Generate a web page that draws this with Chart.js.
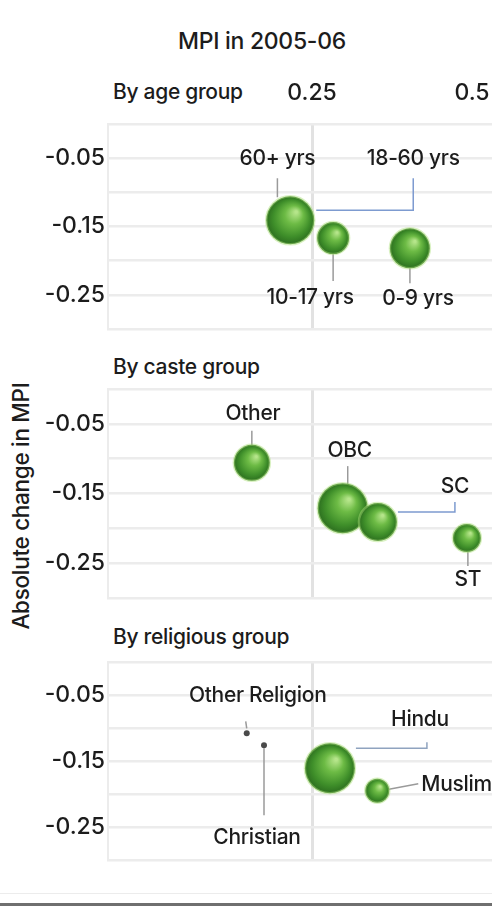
<!DOCTYPE html>
<html>
<head>
<meta charset="utf-8">
<script src="https://cdn.jsdelivr.net/npm/chart.js@4/dist/chart.umd.min.js"></script>
<style>
  html, body { margin: 0; padding: 0; background: #fff; }
  body { width: 492px; height: 910px; overflow: hidden; position: relative; font-family: Inter, "Noto Sans", sans-serif; color: #1c1c1c; }
  canvas { position: absolute; left: 0; }
  .txt { position: absolute; white-space: nowrap; line-height: 1; font-weight: 500; letter-spacing: -0.3px; }
  #title { top: 30px; left: 0; width: 524px; text-align: center; font-size: 23px; }
  .sub { left: 113px; font-size: 21px; }
  #ytitle { font-size: 22.5px; left: 21px; top: 506px; transform: translate(-50%, -50%) rotate(-90deg); }
  #rule1 { position: absolute; left: 0; width: 492px; top: 893px; height: 1px; background: #ececec; }
  #rule2 { position: absolute; left: 0; width: 492px; top: 903px; height: 3px; background: #6f6f6f; }
</style>
</head>
<body>
<div id="title" class="txt">MPI in 2005-06</div>
<div class="txt sub" style="top:81px">By age group</div>
<div class="txt sub" style="top:356px">By caste group</div>
<div class="txt sub" style="top:626px">By religious group</div>
<div id="ytitle" class="txt">Absolute change in MPI</div>
<div id="rule1"></div>
<div id="rule2"></div>

<canvas id="ageChart" width="600" height="280" style="top:60px"></canvas>
<canvas id="casteChart" width="600" height="235" style="top:370px"></canvas>
<canvas id="religionChart" width="600" height="230" style="top:640px"></canvas>

<script>
// x: MPI in 2005-06, y: absolute change in MPI, size: bubble radius (population)
const ageGroups = ['60+ yrs', '18-60 yrs', '10-17 yrs', '0-9 yrs'];
const ageMpi = [0.21, 0.216, 0.283, 0.403];
const ageChange = [-0.135, -0.141, -0.167, -0.182];
const ageSize = [12, 24, 16, 20];

const casteGroups = ['Other', 'OBC', 'SC', 'ST'];
const casteMpi = [0.156, 0.298, 0.353, 0.492];
const casteChange = [-0.106, -0.171, -0.191, -0.214];
const casteSize = [18, 25, 19, 14];

const religionGroups = ['Other Religion', 'Christian', 'Hindu', 'Muslim'];
const religionMpi = [0.148, 0.175, 0.278, 0.352];
const religionChange = [-0.108, -0.126, -0.161, -0.195];
const religionSize = [3, 3, 25, 12];

const xTickValues = [0.25, 0.5];
const yTickLabels = [-0.05, -0.15, -0.25];

// where each callout label sits relative to its bubble (pixels)
const ageCallouts = [
    { dx: -9, dy: -58, line: [[-9, -38], [-9, -19]] },
    { dx: 123, dy: -62, line: [[123, -42], [123, -10], [26, -10]], color: '#7d9bd0' },
    { dx: -23, dy: 60, line: [[0, 16], [0, 43]] },
    { dx: 8, dy: 50, line: [[0, 20], [0, 35]] }
];
const casteCallouts = [
    { dx: 1, dy: -49, line: [[0, -32], [0, -16]] },
    { dx: 7, dy: -57, line: [[5, -42], [5, -23]] },
    { dx: 77, dy: -35, line: [[77, -20], [77, -10], [20, -10]], color: '#7d9bd0' },
    { dx: 1, dy: 42, line: [[1, 14], [1, 28]] }
];
const religionCallouts = [
    { dx: 11, dy: -38, line: [[-1, -12], [0, -5]] },
    { dx: -7, dy: 93, line: [[0, 3], [0, 70]] },
    { dx: 90, dy: -49, line: [[26, -20], [97, -20], [97, -26]], color: '#8fa3bf' },
    { dx: 44, dy: -6, align: 'left', line: [[9, -1], [41, -7]] }
];

function toPoints(xs, ys, rs) {
    return xs.map((x, i) => ({ x: x, y: ys[i], r: rs[i] }));
}

// shaded green sphere look
function bubbleFill(ctx) {
    const raw = ctx.raw;
    const chart = ctx.chart;
    if (!raw || !chart.scales.x) return '#4b9d31';
    if (raw.r < 5) return '#4a4a4a';
    const px = chart.scales.x.getPixelForValue(raw.x);
    const py = chart.scales.y.getPixelForValue(raw.y);
    if (!isFinite(px) || !isFinite(py)) return '#4b9d31';
    const g = chart.ctx.createRadialGradient(px + raw.r * 0.25, py - raw.r * 0.35, raw.r * 0.05, px, py, raw.r);
    g.addColorStop(0, '#b5e58a');
    g.addColorStop(0.35, '#6dbb45');
    g.addColorStop(0.75, '#3f8f2a');
    g.addColorStop(1, '#2c6e1f');
    return g;
}

const calloutPlugin = {
    id: 'callouts',
    beforeDatasetsDraw(chart, args, opts) {
        const meta = chart.getDatasetMeta(0);
        const c = chart.ctx;
        c.save();
        opts.items.forEach((it, i) => {
            const el = meta.data[i];
            c.strokeStyle = it.color || '#9a9a9a';
            c.lineWidth = 1.5;
            c.beginPath();
            it.line.forEach((p, k) => {
                if (k === 0) c.moveTo(el.x + p[0], el.y + p[1]);
                else c.lineTo(el.x + p[0], el.y + p[1]);
            });
            c.stroke();
        });
        c.restore();
    },
    afterDatasetsDraw(chart, args, opts) {
        const meta = chart.getDatasetMeta(0);
        const c = chart.ctx;
        c.save();
        c.font = '500 21px Inter, "Noto Sans", sans-serif';
        c.fillStyle = '#1c1c1c';
        c.textBaseline = 'middle';
        if ('letterSpacing' in c) c.letterSpacing = '-0.3px';
        opts.items.forEach((it, i) => {
            const el = meta.data[i];
            c.textAlign = it.align || 'center';
            c.fillText(opts.labels[i], el.x + it.dx, el.y + it.dy);
        });
        c.restore();
    }
};

function noPadding(scale) {
    scale.paddingTop = 0;
    scale.paddingBottom = 0;
    scale.paddingLeft = 0;
    scale.paddingRight = 0;
}

function makeChart(id, labels, points, callouts, layout) {
    return new Chart(document.getElementById(id), {
        type: 'bubble',
        data: {
            datasets: [{
                data: points,
                backgroundColor: bubbleFill,
                borderColor: ctx => (ctx.raw && ctx.raw.r < 5) ? '#4a4a4a' : 'rgba(170, 225, 120, 0.45)',
                borderWidth: ctx => (ctx.raw && ctx.raw.r < 5) ? 0 : 2.5,
                clip: false
            }]
        },
        options: {
            responsive: false,
            animation: false,
            layout: { autoPadding: false, padding: { top: layout.top, bottom: layout.bottom, left: 0, right: 0 } },
            plugins: {
                legend: { display: false },
                tooltip: { enabled: false },
                callouts: { labels: labels, items: callouts }
            },
            scales: {
                x: {
                    type: 'linear',
                    position: 'top',
                    min: -0.06875,
                    max: 0.7,
                    afterBuildTicks: scale => { scale.ticks = xTickValues.map(v => ({ value: v })); },
                    afterFit: scale => { scale.height = layout.xHeight; noPadding(scale); },
                    grid: {
                        color: c => (c.tick && c.tick.value === 0.25) ? '#e2e2e2' : 'rgba(0,0,0,0)',
                        lineWidth: 3,
                        drawTicks: false
                    },
                    border: { display: true, color: '#ececec', width: 2 },
                    ticks: {
                        display: layout.showX,
                        autoSkip: false,
                        maxRotation: 0,
                        padding: 17,
                        color: '#1c1c1c',
                        font: { family: 'Inter', size: 23, weight: '500' },
                        callback: v => String(v)
                    }
                },
                y: {
                    type: 'linear',
                    min: -0.3,
                    max: 0,
                    afterFit: scale => { scale.width = 108; noPadding(scale); },
                    grid: { color: '#ececec', lineWidth: 2.5, drawTicks: false },
                    border: { display: true, color: '#ececec', width: 2 },
                    ticks: {
                        stepSize: 0.05,
                        autoSkip: false,
                        padding: 3,
                        color: '#1c1c1c',
                        font: { family: 'Inter', size: 23, weight: '500' },
                        callback: v => yTickLabels.some(t => Math.abs(t - v) < 1e-6) ? v.toFixed(2) : ''
                    }
                }
            }
        },
        plugins: [calloutPlugin]
    });
}

makeChart('ageChart', ageGroups, toPoints(ageMpi, ageChange, ageSize), ageCallouts,
    { top: 0, bottom: 11, xHeight: 64, showX: true });
makeChart('casteChart', casteGroups, toPoints(casteMpi, casteChange, casteSize), casteCallouts,
    { top: 19, bottom: 7, xHeight: 0, showX: false });
makeChart('religionChart', religionGroups, toPoints(religionMpi, religionChange, religionSize), religionCallouts,
    { top: 22, bottom: 10, xHeight: 0, showX: false });
</script>
</body>
</html>
